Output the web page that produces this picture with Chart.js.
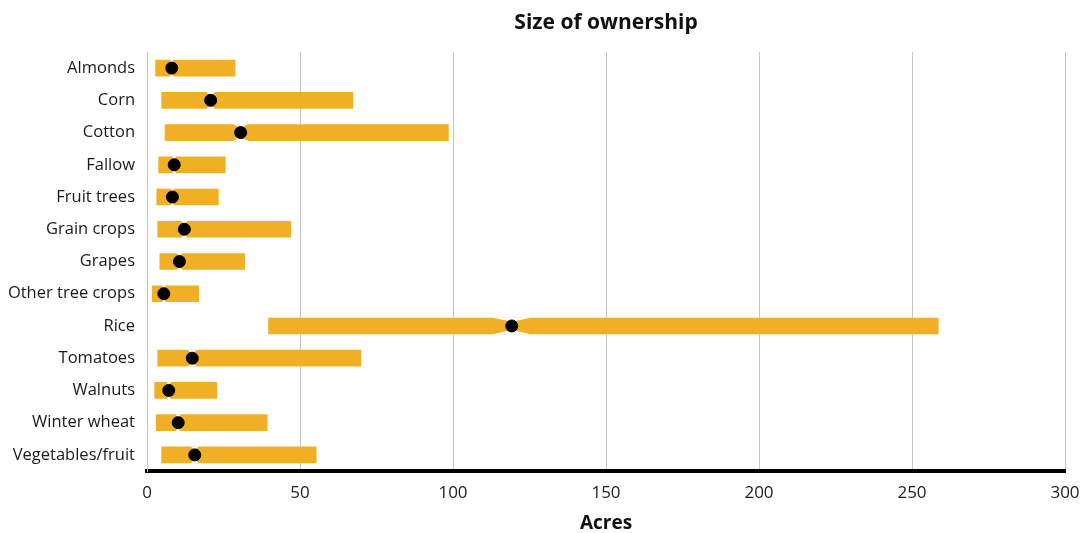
<!DOCTYPE html>
<html>
<head>
<meta charset="utf-8">
<script src="https://cdn.jsdelivr.net/npm/chart.js@4/dist/chart.umd.min.js"></script>
<style>
  html, body { margin: 0; padding: 0; background: #fff; }
  #wrap { width: 1082px; height: 533px; position: relative; }
</style>
</head>
<body>
<div id="wrap"><canvas id="c"></canvas></div>
<script>
const categories = ["Almonds", "Corn", "Cotton", "Fallow", "Fruit trees", "Grain crops", "Grapes",
  "Other tree crops", "Rice", "Tomatoes", "Walnuts", "Winter wheat", "Vegetables/fruit"];
const lowValues    = [2.8, 4.8, 5.9, 3.8, 3.2, 3.5, 4.2, 1.7, 39.7, 3.5, 2.5, 3.0, 4.8];
const highValues   = [28.8, 67.3, 98.5, 25.6, 23.3, 47.0, 31.9, 16.9, 258.6, 69.9, 22.8, 39.3, 55.3];
const medianValues = [8.1, 20.8, 30.6, 8.9, 8.3, 12.2, 10.6, 5.5, 119.2, 14.8, 7.1, 10.2, 15.6];
const notchHalfWidth = [0.6, 1.5, 2.5, 0.6, 0.6, 1.1, 0.9, 0.6, 6.6, 1.6, 0.7, 0.8, 1.3];
const xTicks = [0, 50, 100, 150, 200, 250, 300];

const FONT = "'Open Sans', 'Noto Sans', sans-serif";
const BAR_COLOR = "#F0AF24";

const notchPlugin = {
  id: 'notch',
  afterDatasetDraw(chart, args) {
    if (args.index !== 0) return;
    const meta = chart.getDatasetMeta(0);
    const xs = chart.scales.x;
    const ctx = chart.ctx;
    ctx.save();
    ctx.fillStyle = '#ffffff';
    meta.data.forEach((bar, i) => {
      const m = xs.getPixelForValue(medianValues[i]);
      const w = xs.getPixelForValue(medianValues[i] + notchHalfWidth[i]) - m;
      const h = bar.height;
      const top = bar.y - h / 2;
      const bot = bar.y + h / 2;
      const d = h * 0.24;
      ctx.beginPath();
      ctx.moveTo(m - w, top - 0.5); ctx.lineTo(m + w, top - 0.5); ctx.lineTo(m, top + d); ctx.closePath();
      ctx.fill();
      ctx.beginPath();
      ctx.moveTo(m - w, bot + 0.5); ctx.lineTo(m + w, bot + 0.5); ctx.lineTo(m, bot - d); ctx.closePath();
      ctx.fill();
    });
    ctx.restore();
  }
};

new Chart(document.getElementById('c'), {
  data: {
    labels: categories,
    datasets: [
      {
        type: 'bar',
        label: 'Range',
        data: categories.map((c, i) => [lowValues[i], highValues[i]]),
        backgroundColor: BAR_COLOR,
        borderWidth: 0,
        barThickness: 16,
        order: 2
      },
      {
        type: 'scatter',
        label: 'Median',
        data: categories.map((c, i) => ({ x: medianValues[i], y: c })),
        backgroundColor: '#000',
        borderColor: '#000',
        pointRadius: 6,
        pointHoverRadius: 6,
        order: 1
      }
    ]
  },
  plugins: [notchPlugin],
  options: {
    indexAxis: 'y',
    responsive: true,
    maintainAspectRatio: false,
    animation: false,
    layout: { padding: { left: 0, right: 17, top: 0, bottom: 0 } },
    plugins: {
      legend: { display: false },
      tooltip: { enabled: false },
      title: { display: false }
    },
    scales: {
      x: {
        type: 'linear',
        position: 'bottom',
        min: 0,
        max: 300,
        afterBuildTicks(scale) { scale.ticks = xTicks.map(v => ({ value: v })); },
        afterFit(scale) { scale.height = 62; scale.paddingRight = 0; scale.paddingLeft = 0; },
        grid: { color: '#c4c4c4', lineWidth: 1, drawTicks: false },
        border: { display: true, color: '#000', width: 4 },
        ticks: { color: '#222', padding: 12, font: { family: FONT, size: 17 } },
        title: {
          display: true,
          text: 'Acres',
          color: '#111',
          font: { family: FONT, size: 19, weight: 'bold', lineHeight: 1.0 },
          padding: { top: 0, bottom: 0 }
        }
      },
      xTop: {
        type: 'linear',
        position: 'top',
        min: 0,
        max: 300,
        afterFit(scale) { scale.height = 52; scale.paddingRight = 0; scale.paddingLeft = 0; },
        grid: { display: false, drawTicks: false },
        border: { display: false },
        ticks: { display: false },
        title: {
          display: true,
          text: 'Size of ownership',
          color: '#111',
          font: { family: FONT, size: 21, weight: 'bold', lineHeight: 1.2 },
          padding: { top: 10, bottom: 0 }
        }
      },
      y: {
        type: 'category',
        afterFit(scale) { scale.width = 147; },
        grid: { display: false, drawTicks: false },
        border: { display: true, color: '#c4c4c4', width: 1 },
        ticks: { color: '#1a1a1a', padding: 12, font: { family: FONT, size: 16.5 } }
      }
    }
  }
});
</script>
</body>
</html>
